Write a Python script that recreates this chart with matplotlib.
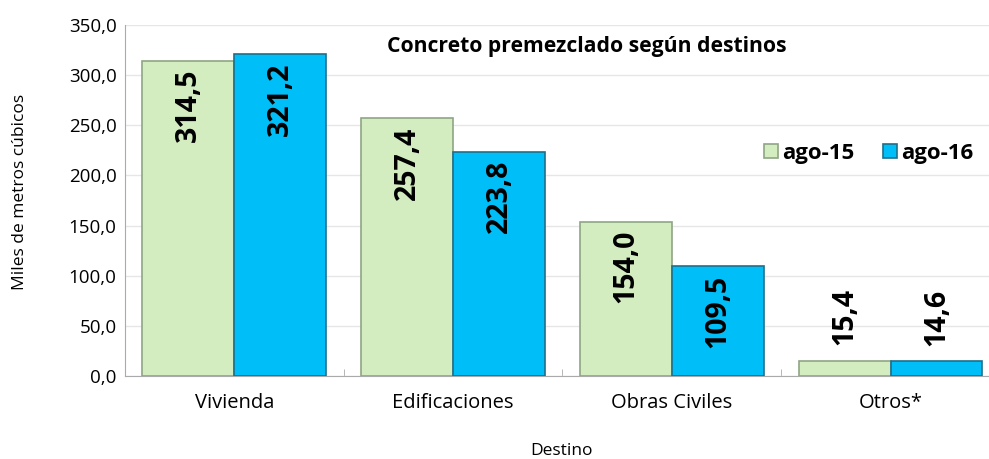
import matplotlib
matplotlib.use("Agg")
import matplotlib.pyplot as plt
import numpy as np

categories = ["Vivienda", "Edificaciones", "Obras Civiles", "Otros*"]
series_names = ["ago-15", "ago-16"]
ago15 = [314.5, 257.4, 154.0, 15.4]
ago16 = [321.2, 223.8, 109.5, 14.6]
yticks = [0, 50, 100, 150, 200, 250, 300, 350]

plt.rcParams['font.family'] = ['Open Sans', 'DejaVu Sans']

fig = plt.figure(figsize=(9.89, 4.59), dpi=100)
ax = fig.add_axes([125/989, 1-376/459, 1-125/989, (376-25)/459])

x = np.arange(len(categories))
w = 0.42
colors = ["#D3EDC1", "#00BEF7"]
edges = ["#8FA584", "#1E6F8C"]
for i, (vals, name) in enumerate(zip([ago15, ago16], series_names)):
    off = (i - 0.5) * w
    bars = ax.bar(x + off, vals, w, color=colors[i], edgecolor=edges[i],
                  linewidth=1.2, label=name, zorder=3)
    for xi, v in zip(x + off, vals):
        lbl = f"{v:.1f}".replace(".", ",")
        if v > 60:
            ax.annotate(lbl, (xi, v), xytext=(0, -6), textcoords="offset points",
                        rotation=90, ha="center", va="top", fontsize=20.5,
                        fontweight="bold", zorder=4)
        else:
            ax.annotate(lbl, (xi, v), xytext=(0, 11), textcoords="offset points",
                        rotation=90, ha="center", va="bottom", fontsize=20.5,
                        fontweight="bold", zorder=4)

ax.set_ylim(0, 350)
ax.set_xlim(-0.5, 3.45)
ax.set_yticks(yticks)
ax.set_yticklabels([f"{t:.1f}".replace(".", ",") for t in yticks], fontsize=13.5)
ax.yaxis.grid(True, color="#E6E6E6", linewidth=1, zorder=0)
ax.set_xticks(x)
ax.set_xticklabels(categories, fontsize=14.5)
ax.tick_params(axis="x", length=0, pad=12)
ax.tick_params(axis="y", length=0, pad=6)
ax.set_xticks(np.arange(0.5, 3.5, 1), minor=True)
ax.tick_params(axis="x", which="minor", direction="in", length=5, color="#AAAAAA")
for s in ["top", "right"]:
    ax.spines[s].set_visible(False)
for s in ["left", "bottom"]:
    ax.spines[s].set_color("#AAAAAA")

fig.text(20/989, 1-192/459, "Miles de metros cúbicos", rotation=90, fontsize=12.5,
         ha="center", va="center")
fig.text(562/989, 1-451/459, "Destino", fontsize=12.5, ha="center", va="center")
ax.text(0.535, 0.94, "Concreto premezclado según destinos", transform=ax.transAxes,
        ha="center", va="center", fontsize=15.2, fontweight="bold")

leg = ax.legend(loc="center right", bbox_to_anchor=(1.005, 0.635), ncol=2, frameon=False,
                prop={"size": 16, "weight": "bold"}, handlelength=0.6,
                handleheight=0.6, handletextpad=0.2, columnspacing=1.3)

fig.savefig("out.png", dpi=100)
